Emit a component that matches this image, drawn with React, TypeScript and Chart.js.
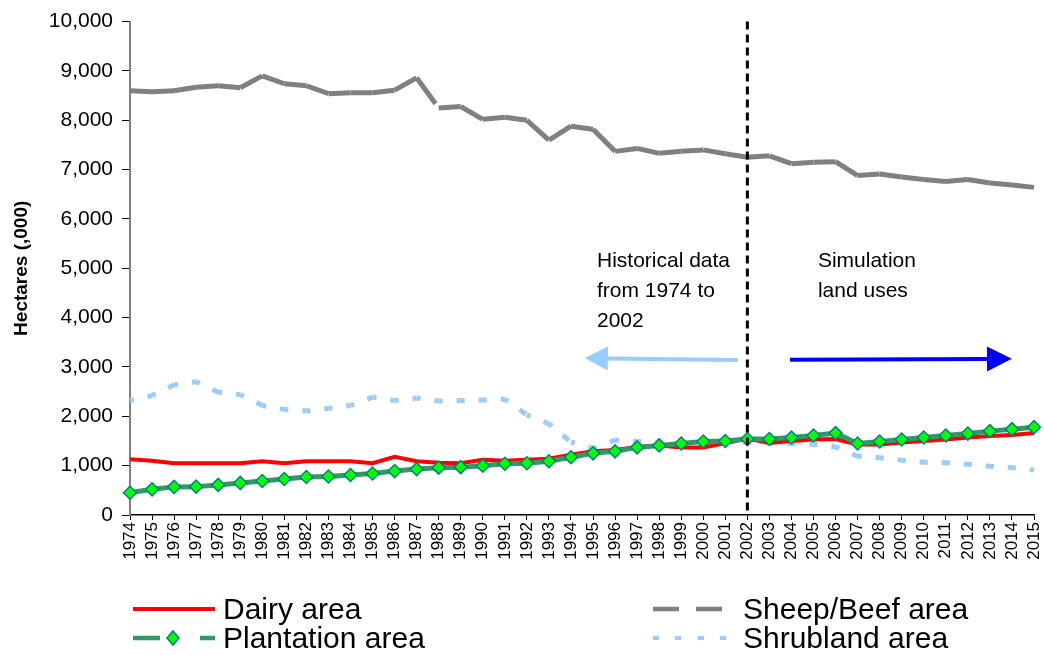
import { useEffect, useRef } from "react";
import { Chart, registerables } from "chart.js";

Chart.register(...registerables);

const FONT = "'Liberation Sans', Arial, Helvetica, sans-serif";

const years = [
  "1974", "1975", "1976", "1977", "1978", "1979", "1980", "1981", "1982", "1983", "1984", "1985",
  "1986", "1987", "1988", "1989", "1990", "1991", "1992", "1993", "1994", "1995", "1996", "1997",
  "1998", "1999", "2000", "2001", "2002", "2003", "2004", "2005", "2006", "2007", "2008", "2009",
  "2010", "2011", "2012", "2013", "2014", "2015",
];

const dairyArea = [
  1130, 1100, 1050, 1050, 1050, 1050, 1090, 1050, 1090, 1090, 1090, 1050,
  1180, 1090, 1060, 1050, 1120, 1100, 1120, 1140, 1220, 1290, 1320, 1380,
  1410, 1370, 1370, 1460, 1550, 1460, 1500, 1530, 1540, 1430, 1430, 1470,
  1500, 1530, 1570, 1600, 1620, 1660,
];

const sheepBeefArea = [
  8600, 8580, 8600, 8670, 8700, 8660, 8900, 8740, 8700, 8540, 8560, 8560,
  8610, 8860, 8250, 8280, 8020, 8060, 8000, 7600, 7880, 7820, 7370, 7430,
  7330, 7370, 7400, 7320, 7250, 7280, 7120, 7150, 7160, 6880, 6910, 6850,
  6800, 6760, 6800, 6730, 6690, 6640,
];

const plantationArea = [
  450, 520, 570, 575, 610, 650, 690, 730, 770, 780, 810, 840,
  890, 930, 960, 970, 1000, 1040, 1050, 1090, 1170, 1250, 1290, 1370,
  1410, 1450, 1490, 1500, 1540, 1540, 1570, 1610, 1660, 1450, 1490, 1530,
  1570, 1610, 1650, 1700, 1740, 1780,
];

const shrublandArea = [
  2320, 2420, 2640, 2700, 2490, 2440, 2220, 2140, 2110, 2160, 2220, 2390,
  2320, 2370, 2310, 2320, 2330, 2350, 2030, 1850, 1480, 1350, 1520, 1490,
  1480, 1460, 1470, 1480, 1470, 1460, 1450, 1430, 1380, 1190, 1160, 1110,
  1070, 1060, 1030, 990, 960, 910,
];

const yTickValues = [0, 1000, 2000, 3000, 4000, 5000, 6000, 7000, 8000, 9000, 10000];

const seriesNames = ["Dairy area", "Sheep/Beef area", "Plantation area", "Shrubland area"];

const dividerYear = "2002";
const historicalLines = ["Historical data", "from 1974 to", "2002"];
const simulationLines = ["Simulation", "land uses"];
// annotation anchors in data units: [category index, value]
const historicalTextAt = [21.18, 5020];
const simulationTextAt = [31.2, 5020];
const leftArrow = { from: [27.57, 3140], to: [20.63, 3180] };
const rightArrow = { from: [29.93, 3145], to: [40.0, 3165] };

const COLORS = {
  dairy: "#FF0000",
  sheep: "#808080",
  plantation: "#339966",
  plantationMarker: "#00FF00",
  plantationMarkerBorder: "#008080",
  shrub: "#99CCFF",
  histArrow: "#99CCFF",
  simArrow: "#0000FF",
};

function segStyle(color: string, width: number, dash: number[], offset: number) {
  return {
    borderColor: color,
    borderWidth: width,
    borderDash: dash,
    borderDashOffset: (c: any) => (c.p0DataIndex % 2 ? offset + 0.001 : offset),
  };
}

function drawArrow(ctx: CanvasRenderingContext2D, x0: number, y0: number, x1: number, y1: number, color: string, width: number, headLen: number, headHalf: number) {
  const ang = Math.atan2(y1 - y0, x1 - x0);
  const bx = x1 - headLen * Math.cos(ang);
  const by = y1 - headLen * Math.sin(ang);
  ctx.strokeStyle = color;
  ctx.fillStyle = color;
  ctx.lineWidth = width;
  ctx.setLineDash([]);
  ctx.beginPath();
  ctx.moveTo(x0, y0);
  ctx.lineTo(bx, by);
  ctx.stroke();
  ctx.beginPath();
  ctx.moveTo(x1, y1);
  ctx.lineTo(bx + headHalf * Math.sin(ang), by - headHalf * Math.cos(ang));
  ctx.lineTo(bx - headHalf * Math.sin(ang), by + headHalf * Math.cos(ang));
  ctx.closePath();
  ctx.fill();
}

const annotationPlugin = {
  id: "landUseAnnotations",
  afterDatasetsDraw(chart: any) {
    const { ctx, chartArea, scales } = chart;
    const xs = scales.x;
    const ys = scales.y;
    ctx.save();
    const dx = xs.getPixelForValue(years.indexOf(dividerYear));
    ctx.strokeStyle = "#000";
    ctx.lineWidth = 3;
    ctx.setLineDash([8, 5]);
    ctx.beginPath();
    ctx.moveTo(dx, chartArea.top);
    ctx.lineTo(dx, chartArea.bottom);
    ctx.stroke();
    ctx.setLineDash([]);

    const P = (p: number[]) => [xs.getPixelForValue(p[0]), ys.getPixelForValue(p[1])];
    const [la0x, la0y] = P(leftArrow.from);
    const [la1x, la1y] = P(leftArrow.to);
    drawArrow(ctx, la0x, la0y, la1x, la1y, COLORS.histArrow, 4, 23, 12);
    const [ra0x, ra0y] = P(rightArrow.from);
    const [ra1x, ra1y] = P(rightArrow.to);
    drawArrow(ctx, ra0x, ra0y, ra1x, ra1y, COLORS.simArrow, 4, 25, 12.5);

    ctx.font = `21px ${FONT}`;
    ctx.fillStyle = "#000";
    ctx.textAlign = "left";
    ctx.textBaseline = "alphabetic";
    const [hx, hy] = P(historicalTextAt);
    historicalLines.forEach((t, i) => ctx.fillText(t, hx, hy + i * 30));
    const [sx, sy] = P(simulationTextAt);
    simulationLines.forEach((t, i) => ctx.fillText(t, sx, sy + i * 30));
    ctx.restore();
  },
};

const legendPlugin = {
  id: "twoColumnLegend",
  afterDraw(chart: any) {
    const { ctx, chartArea } = chart;
    const c1 = chartArea.left + 3;
    const c2 = c1 + 520;
    const r1 = 609;
    const r2 = 638;
    const textOff = 90;
    ctx.save();
    ctx.lineCap = "butt";
    // Dairy
    ctx.strokeStyle = COLORS.dairy;
    ctx.lineWidth = 4;
    ctx.beginPath();
    ctx.moveTo(c1, r1);
    ctx.lineTo(c1 + 82, r1);
    ctx.stroke();
    // Plantation
    ctx.strokeStyle = COLORS.plantation;
    ctx.lineWidth = 4.5;
    ctx.beginPath();
    ctx.moveTo(c1, r2);
    ctx.lineTo(c1 + 27, r2);
    ctx.moveTo(c1 + 67, r2);
    ctx.lineTo(c1 + 82, r2);
    ctx.stroke();
    const mx = c1 + 40;
    ctx.fillStyle = COLORS.plantationMarker;
    ctx.strokeStyle = COLORS.plantationMarkerBorder;
    ctx.lineWidth = 1.5;
    ctx.beginPath();
    ctx.moveTo(mx, r2 - 7);
    ctx.lineTo(mx + 6, r2);
    ctx.lineTo(mx, r2 + 7);
    ctx.lineTo(mx - 6, r2);
    ctx.closePath();
    ctx.fill();
    ctx.stroke();
    // Sheep/Beef
    ctx.strokeStyle = COLORS.sheep;
    ctx.lineWidth = 4.5;
    ctx.beginPath();
    ctx.moveTo(c2, r1);
    ctx.lineTo(c2 + 26, r1);
    ctx.moveTo(c2 + 43, r1);
    ctx.lineTo(c2 + 69, r1);
    ctx.stroke();
    // Shrubland
    ctx.strokeStyle = COLORS.shrub;
    ctx.lineWidth = 4;
    ctx.beginPath();
    [0, 22, 45, 67].forEach((o) => {
      ctx.moveTo(c2 + o, r2);
      ctx.lineTo(c2 + o + 6, r2);
    });
    ctx.stroke();

    ctx.font = `30px ${FONT}`;
    ctx.fillStyle = "#000";
    ctx.textAlign = "left";
    ctx.textBaseline = "alphabetic";
    ctx.fillText(seriesNames[0], c1 + textOff, r1 + 9.5);
    ctx.fillText(seriesNames[2], c1 + textOff, r2 + 10);
    ctx.fillText(seriesNames[1], c2 + textOff, r1 + 9.5);
    ctx.fillText(seriesNames[3], c2 + textOff, r2 + 10);
    ctx.restore();
  },
};

export default function App() {
  const canvasRef = useRef<HTMLCanvasElement | null>(null);

  useEffect(() => {
    if (!canvasRef.current) return;
    Chart.defaults.font.family = FONT;
    const chart = new Chart(canvasRef.current, {
      type: "line",
      data: {
        labels: years,
        datasets: [
          {
            label: seriesNames[0],
            data: dairyArea,
            borderColor: COLORS.dairy,
            borderWidth: 4,
            pointRadius: 0,
            tension: 0,
            order: 1,
          },
          {
            label: seriesNames[1],
            data: sheepBeefArea,
            borderColor: COLORS.sheep,
            borderWidth: 5,
            borderDash: [32, 10],
            pointRadius: 0,
            tension: 0,
            order: 2,
            segment: segStyle(COLORS.sheep, 5, [32, 10], 0),
          },
          {
            label: seriesNames[2],
            data: plantationArea,
            borderColor: COLORS.plantation,
            borderWidth: 5,
            borderDash: [32, 10],
            pointStyle: "rectRot",
            pointRadius: 6.5,
            pointBackgroundColor: COLORS.plantationMarker,
            pointBorderColor: COLORS.plantationMarkerBorder,
            pointBorderWidth: 1.5,
            tension: 0,
            order: 0,
            segment: segStyle(COLORS.plantation, 5, [32, 10], 0),
          },
          {
            label: seriesNames[3],
            data: shrublandArea,
            borderColor: COLORS.shrub,
            borderWidth: 5,
            borderDash: [8, 14],
            pointRadius: 0,
            tension: 0,
            order: 3,
            segment: segStyle(COLORS.shrub, 5, [8, 14], 4),
          },
        ],
      },
      options: {
        responsive: false,
        animation: false,
        layout: { padding: { top: 20, right: 10, bottom: 90, left: 0 } },
        plugins: {
          legend: { display: false },
          tooltip: { enabled: false },
        },
        scales: {
          x: {
            type: "category",
            offset: false,
            grid: {
              display: true,
              drawOnChartArea: false,
              drawTicks: true,
              tickLength: 5,
              color: "#000",
              lineWidth: 1,
            },
            border: { display: true, color: "#000", width: 1.5 },
            ticks: {
              autoSkip: false,
              minRotation: 90,
              maxRotation: 90,
              padding: 2,
              color: "#000",
              font: { size: 17, family: FONT },
            },
            afterFit: (scale: any) => {
              scale.height = 50;
              scale.paddingLeft = 0;
              scale.paddingRight = 0;
            },
          },
          y: {
            type: "linear",
            min: 0,
            max: 10000,
            afterBuildTicks: (scale: any) => {
              scale.ticks = yTickValues.map((v) => ({ value: v }));
            },
            grid: {
              display: true,
              drawOnChartArea: false,
              drawTicks: true,
              tickLength: 8,
              color: "#000",
              lineWidth: 1,
            },
            border: { display: true, color: "#808080", width: 2 },
            ticks: {
              padding: 9,
              color: "#000",
              font: { size: 21, family: FONT },
              callback: (v: any) => Number(v).toLocaleString("en-US"),
            },
            title: {
              display: true,
              text: "Hectares (,000)",
              color: "#000",
              font: { size: 19, weight: "bold", family: FONT },
              padding: { top: 10, bottom: 0 },
            },
            afterFit: (scale: any) => {
              scale.width = 130;
            },
          },
        },
      },
      plugins: [annotationPlugin, legendPlugin],
    } as any);
    return () => chart.destroy();
  }, []);

  return (
    <div style={{ position: "fixed", left: 0, top: 0, width: 1044, height: 655, background: "#fff" }}>
      <canvas ref={canvasRef} width={1044} height={655} style={{ display: "block" }} />
    </div>
  );
}
